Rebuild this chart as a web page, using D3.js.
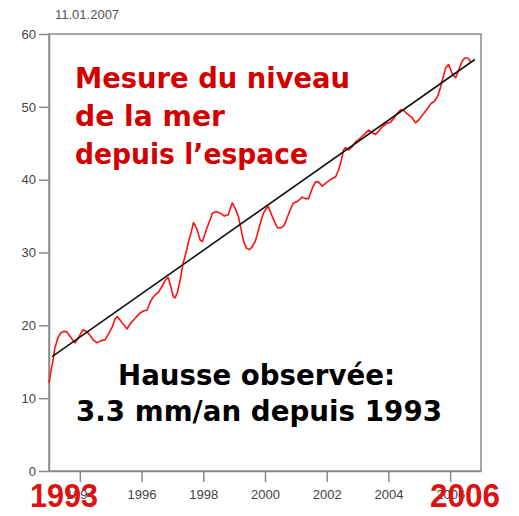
<!DOCTYPE html>
<html>
<head>
<meta charset="utf-8">
<script src="https://cdn.jsdelivr.net/npm/d3@7"></script>
<style>
  body { margin: 0; background: #fff; }
  svg { display: block; }
  .axis text { font: 13px "Liberation Sans", Arial, sans-serif; fill: #444; }
  .axis line, .axis path { stroke: #8a8a8a; stroke-width: 1.5; }
</style>
</head>
<body>
<script>
// sea level (mm), with decimal years
var years = [1993.00,1993.06,1993.13,1993.19,1993.29,1993.39,1993.49,1993.58,1993.68,1993.78,1993.84,1993.97,
  1994.10,1994.20,1994.30,1994.43,1994.56,1994.69,1994.82,1994.95,1995.05,1995.14,1995.21,1995.31,1995.40,
  1995.53,1995.63,1995.73,1995.86,1995.95,1996.08,1996.18,1996.28,1996.38,1996.47,1996.54,1996.67,1996.77,
  1996.86,1996.96,1997.03,1997.09,1997.16,1997.25,1997.35,1997.45,1997.51,1997.61,1997.68,1997.74,1997.81,
  1997.90,1997.97,1998.06,1998.13,1998.23,1998.29,1998.42,1998.55,1998.68,1998.81,1998.88,1998.94,1999.04,
  1999.14,1999.23,1999.30,1999.40,1999.49,1999.59,1999.69,1999.79,1999.88,1999.95,2000.05,2000.11,2000.21,
  2000.31,2000.40,2000.53,2000.63,2000.73,2000.82,2000.92,2001.05,2001.21,2001.31,2001.41,2001.54,2001.64,
  2001.73,2001.86,2001.99,2002.12,2002.29,2002.38,2002.45,2002.55,2002.61,2002.71,2002.84,2002.94,2003.06,
  2003.16,2003.26,2003.36,2003.49,2003.58,2003.71,2003.81,2003.94,2004.07,2004.17,2004.27,2004.40,2004.49,
  2004.62,2004.75,2004.88,2004.98,2005.11,2005.24,2005.37,2005.50,2005.60,2005.69,2005.79,2005.86,2005.95,
  2006.02,2006.08,2006.18,2006.28,2006.38,2006.47,2006.57,2006.67];
var level = [12.1,13.6,15.2,16.9,18.3,19.0,19.2,19.1,18.5,17.9,17.6,18.4,
  19.4,19.2,18.8,18.0,17.6,17.9,18.0,19.0,19.8,20.9,21.2,20.7,20.2,
  19.5,20.2,20.7,21.3,21.7,22.0,22.1,23.2,23.9,24.3,24.5,25.4,26.2,
  26.6,25.1,23.9,23.8,24.5,26.2,28.6,30.1,31.3,32.8,34.1,33.7,33.0,
  31.7,31.5,32.6,33.5,34.6,35.4,35.6,35.4,35.0,35.2,36.1,36.8,36.0,
  34.9,33.1,31.6,30.6,30.4,30.8,31.6,33.1,34.5,35.4,36.1,36.3,35.2,
  34.2,33.4,33.4,33.8,34.9,35.9,36.8,37.0,37.6,37.4,37.4,38.9,39.7,
  39.7,39.1,39.6,40.0,40.4,41.3,42.3,44.1,44.4,44.1,44.6,45.2,45.6,
  46.0,46.4,46.8,46.4,46.2,46.8,47.3,47.7,47.9,48.4,49.0,49.6,49.5,
  49.0,48.6,47.8,48.2,48.9,49.6,50.4,50.8,51.5,52.7,54.3,55.4,55.8,
  55.1,54.4,54.0,55.1,56.2,56.7,56.7,56.2];

// linear trend, end points
var trendYears = [1993.1, 2006.8];
var trendLevels = [15.7, 56.5];

var yTicks = [0, 10, 20, 30, 40, 50, 60];
var xTicks = [1994, 1996, 1998, 2000, 2002, 2004, 2006];

var width = 519, height = 516;
var margin = {top: 34, right: 38, bottom: 45, left: 49};

var x = d3.scaleLinear().domain([1993, 2007]).range([margin.left, width - margin.right]);
var y = d3.scaleLinear().domain([0, 60]).range([height - margin.bottom, margin.top]);

var svg = d3.select("body").append("svg")
  .attr("width", width)
  .attr("height", height);

// frame
svg.append("rect")
  .attr("x", x(1993)).attr("y", y(60))
  .attr("width", x(2007) - x(1993)).attr("height", y(0) - y(60))
  .attr("fill", "none").attr("stroke", "#8a8a8a").attr("stroke-width", 1.5);

svg.append("g")
  .attr("class", "axis")
  .attr("transform", "translate(" + x(1993) + ",0)")
  .call(d3.axisLeft(y).tickValues(yTicks).tickSize(10).tickSizeOuter(0).tickPadding(3));

svg.append("g")
  .attr("class", "axis")
  .attr("transform", "translate(0," + y(0) + ")")
  .call(d3.axisBottom(x).tickValues(xTicks).tickFormat(d3.format("d")).tickSize(11).tickSizeOuter(0).tickPadding(8));

svg.append("text")
  .attr("x", 55).attr("y", 19)
  .style("font", "13px 'Liberation Sans', Arial, sans-serif")
  .attr("fill", "#555")
  .text("11.01.2007");

var line = d3.line()
  .x(function(d) { return x(d[0]); })
  .y(function(d) { return y(d[1]); });

svg.append("path")
  .datum(d3.zip(years, level))
  .attr("fill", "none")
  .attr("stroke", "#ff1010")
  .attr("stroke-width", 1.6)
  .attr("stroke-linejoin", "round")
  .attr("d", line);

svg.append("path")
  .datum(d3.zip(trendYears, trendLevels))
  .attr("fill", "none")
  .attr("stroke", "#111")
  .attr("stroke-width", 1.6)
  .attr("d", line);

// annotations
var title = ["Mesure du niveau", "de la mer", "depuis l\u2019espace"];
var titleLen = [275, 150, 233];
svg.selectAll(".title").data(title).enter().append("text")
  .attr("class", "title")
  .attr("x", 75)
  .attr("y", function(d, i) { return 88 + i * 38; })
  .attr("textLength", function(d, i) { return titleLen[i]; })
  .attr("lengthAdjust", "spacingAndGlyphs")
  .style("font", "bold 28px 'DejaVu Sans', sans-serif")
  .attr("fill", "#d40000")
  .text(function(d) { return d; });

var note = ["Hausse observ\u00e9e:", "3.3 mm/an depuis 1993"];
var noteX = [118, 76], noteLen = [277, 366];
svg.selectAll(".note").data(note).enter().append("text")
  .attr("class", "note")
  .attr("x", function(d, i) { return noteX[i]; })
  .attr("y", function(d, i) { return 385 + i * 36; })
  .attr("textLength", function(d, i) { return noteLen[i]; })
  .attr("lengthAdjust", "spacingAndGlyphs")
  .style("font", "bold 28px 'DejaVu Sans', sans-serif")
  .attr("fill", "#000")
  .text(function(d) { return d; });

svg.append("text")
  .attr("x", 30).attr("y", 507)
  .attr("textLength", 68).attr("lengthAdjust", "spacingAndGlyphs")
  .style("font", "bold 33px 'Liberation Sans', Arial, sans-serif")
  .attr("fill", "#dd1111")
  .text("1993");

svg.append("text")
  .attr("x", 430).attr("y", 507)
  .attr("textLength", 70).attr("lengthAdjust", "spacingAndGlyphs")
  .style("font", "bold 33px 'Liberation Sans', Arial, sans-serif")
  .attr("fill", "#dd1111")
  .text("2006");
</script>
</body>
</html>
